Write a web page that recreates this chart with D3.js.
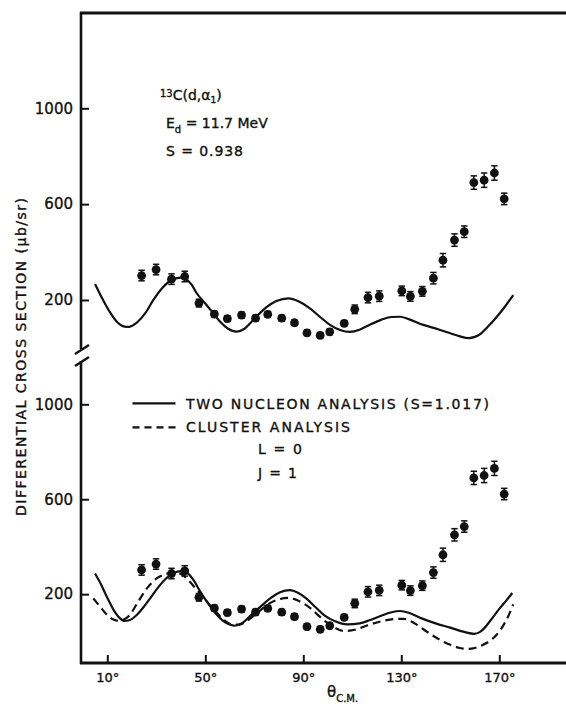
<!DOCTYPE html>
<html><head><meta charset="utf-8">
<script src="https://cdn.jsdelivr.net/npm/d3@7"></script>
<style>
html,body{margin:0;padding:0;background:#fff;}
svg{display:block;}
text{font-family:"DejaVu Sans",sans-serif;fill:#111;stroke:#111;stroke-width:0.35px;}
</style></head><body>
<div id="chart"></div>
<script>
// Measured 13C(d,α1) angular distribution, Ed = 11.7 MeV
const angles = [24.0, 29.9, 36.2, 41.6, 47.4, 53.7, 59.0, 64.8, 70.5, 75.5, 81.2, 86.4, 91.5, 96.9, 100.8, 106.7, 111.0, 116.4, 121.0, 130.2, 133.7, 138.6, 143.1, 147.0, 151.7, 155.7, 159.6, 163.8, 168.0, 172.0];
const crossSection = [302, 327, 287, 298, 187, 141, 122, 137, 124, 140, 124, 105, 63, 52, 67, 102, 161, 210, 216, 238, 215, 236, 291, 366, 450, 485, 690, 700, 730, 622];
const errors = [22, 22, 22, 22, 16, 12, 12, 12, 12, 12, 12, 12, 12, 12, 12, 12, 18, 22, 22, 20, 20, 20, 24, 28, 26, 24, 28, 30, 30, 24];

// Two-nucleon transfer calculation, S = 0.938 (upper panel)
const twoNucleonUpper = [[5,267],[8,205],[11,150],[14,108],[17,89],[19,88],[22,105],[25.5,145],[28.8,200],[32,245],[35,275],[38,290],[40,293],[42,288],[44.5,263],[46.5,228],[50,185],[53.3,144],[56,110],[59,82],[62.8,68],[66,80],[69,110],[72,142],[75,170],[79,196],[84,207],[88,195],[92.7,165],[97,128],[100.9,96],[105,75],[109,67],[113,76],[117,96],[122,118],[126,129],[129.5,130],[133,120],[139,96],[145,78],[150,61],[154,48],[157.5,41],[160,46],[162.5,60],[165,85],[169,130],[172.5,175],[175.7,220]];
// Two-nucleon transfer calculation, S = 1.017 (lower panel)
const twoNucleonLower = [[5,287],[7.5,240],[10,185],[12.5,135],[15,100],[17,87],[19,90],[22,112],[25,148],[28,190],[31,232],[34,266],[37,288],[40,297],[42.5,290],[45,262],[48,210],[51,163],[54,122],[57,90],[60,72],[62,67],[65,78],[69,115],[73,152],[76.5,182],[80.5,208],[84.5,217],[88,205],[91.2,182],[95,145],[98.6,111],[103,86],[108,73],[113,77],[117,90],[121,106],[126,124],[129.5,129],[133,122],[138.3,98],[144,77],[150,59],[156,40],[159.7,33],[162,40],[164,58],[166.3,88],[170,138],[173,175],[175.3,205]];
// Cluster (alpha-transfer) calculation, L = 0, J = 1
const clusterLower = [[4.3,182],[7,148],[10,112],[12.5,93],[14.5,88],[16.5,92],[19,110],[22,158],[26,222],[30,265],[34,285],[37,291],[40,285],[43,260],[46,225],[49,189],[52,152],[55,118],[58,88],[61,72],[64,72],[67,88],[71,120],[76,160],[80,178],[84,184],[88,172],[93,140],[96,112],[99,85],[103,58],[106.5,45],[111,50],[116,68],[122,86],[127,95],[131,96],[135,80],[140,45],[145,12],[150,-13],[154,-27],[157,-31],[160,-27],[163,-15],[166,2],[169,30],[172,75],[174,115],[175.7,157]];

const xTicks = [10, 50, 90, 130, 170];
const yTicks = [200, 600, 1000];

const W = 566, H = 704;
const axisX = 81, baseY = 663, topY = 13;

const svg = d3.select("#chart").append("svg").attr("width", W).attr("height", H);

const x = d3.scaleLinear().domain([10, 170]).range([107.3, 499.3]);
const yUp = d3.scaleLinear().domain([0, 1000]).range([347.9, 108.3]);
const yLo = d3.scaleLinear().domain([-90, 1000]).range([baseY, 404.3]);

const ink = "#111";

// frame: top rule, broken vertical axis, baseline
svg.append("line").attr("x1", axisX - 1).attr("x2", W).attr("y1", topY).attr("y2", topY)
  .attr("stroke", ink).attr("stroke-width", 3);
svg.append("line").attr("x1", axisX).attr("x2", axisX).attr("y1", topY - 1).attr("y2", 349)
  .attr("stroke", ink).attr("stroke-width", 2.6);
svg.append("line").attr("x1", axisX).attr("x2", axisX).attr("y1", 361).attr("y2", baseY + 1)
  .attr("stroke", ink).attr("stroke-width", 2.6);
[[75, 354, 89, 345], [75, 366, 89, 357]].forEach(s => {
  svg.append("line").attr("x1", s[0]).attr("y1", s[1]).attr("x2", s[2]).attr("y2", s[3])
    .attr("stroke", ink).attr("stroke-width", 2.4);
});
svg.append("line").attr("x1", axisX - 1).attr("x2", W).attr("y1", baseY).attr("y2", baseY)
  .attr("stroke", ink).attr("stroke-width", 3);

function styleAxis(g, size) {
  g.select(".domain").remove();
  g.selectAll(".tick line").attr("stroke", ink).attr("stroke-width", 2);
  g.selectAll(".tick text").attr("fill", ink).style("font-family", '"DejaVu Sans",sans-serif').style("font-size", size + "px");
}

[yUp, yLo].forEach(sc => {
  const g = svg.append("g").attr("transform", `translate(${axisX},0)`)
    .call(d3.axisLeft(sc).tickValues(yTicks).tickSizeInner(-8).tickSizeOuter(0).tickPadding(8).tickFormat(d3.format("d")));
  styleAxis(g, 15);
});

const gx = svg.append("g").attr("transform", `translate(0,${baseY})`)
  .call(d3.axisBottom(x).tickValues(xTicks).tickSizeInner(-8).tickSizeOuter(0).tickPadding(10).tickFormat(d => d + "°"));
styleAxis(gx, 13);

// curves
function curve(data, sc, dash) {
  const line = d3.line().x(d => x(d[0])).y(d => sc(d[1])).curve(d3.curveMonotoneX);
  svg.append("path").datum(data).attr("d", line).attr("fill", "none")
    .attr("stroke", ink).attr("stroke-width", 2.2).attr("stroke-dasharray", dash || null);
}
curve(twoNucleonUpper, yUp);
curve(twoNucleonLower, yLo);
curve(clusterLower, yLo, "8,5");

// data points with error bars
function points(sc) {
  const g = svg.append("g");
  const pts = angles.map((a, i) => ({a, v: crossSection[i], e: errors[i]}));
  const eb = g.selectAll("g.eb").data(pts).join("g").attr("class", "eb");
  eb.append("line").attr("x1", d => x(d.a)).attr("x2", d => x(d.a))
    .attr("y1", d => sc(d.v - d.e)).attr("y2", d => sc(d.v + d.e)).attr("stroke", ink).attr("stroke-width", 1.5);
  [-1, 1].forEach(s => {
    eb.append("line").attr("x1", d => x(d.a) - 3.2).attr("x2", d => x(d.a) + 3.2)
      .attr("y1", d => sc(d.v + s * d.e)).attr("y2", d => sc(d.v + s * d.e)).attr("stroke", ink).attr("stroke-width", 1.5);
  });
  g.selectAll("circle").data(pts).join("circle")
    .attr("cx", d => x(d.a)).attr("cy", d => sc(d.v)).attr("r", 4.4).attr("fill", ink);
}
points(yUp);
points(yLo);

// y-axis title
svg.append("text").attr("transform", "translate(26,357) rotate(-90)")
  .attr("text-anchor", "middle").style("font-size", "14px")
  .attr("textLength", 318).attr("lengthAdjust", "spacing")
  .text("DIFFERENTIAL CROSS SECTION (μb/sr)");

// x-axis title
const xt = svg.append("text").attr("x", 327).attr("y", 697).style("font-size", "15px");
xt.append("tspan").text("θ");
xt.append("tspan").attr("dy", 5).style("font-size", "10px").text("C.M.");

// reaction annotation (upper panel)
const r = svg.append("text").attr("x", 160).attr("y", 97).style("font-size", "14px");
r.append("tspan").style("font-size", "10px").text("13");
r.append("tspan").attr("dy", 3).text("C(d,α");
r.append("tspan").attr("dy", 3).style("font-size", "9px").text("1");
r.append("tspan").attr("dy", -3).text(")");

const e = svg.append("text").attr("x", 166).attr("y", 128).style("font-size", "14px");
e.append("tspan").text("E");
e.append("tspan").attr("dy", 5).style("font-size", "10px").text("d");
e.append("tspan").attr("dy", -5).text(" = 11.7 MeV");

svg.append("text").attr("x", 166).attr("y", 156).style("font-size", "14px")
  .attr("textLength", 77).attr("lengthAdjust", "spacing").text("S = 0.938");

// legend (lower panel)
svg.append("line").attr("x1", 132.5).attr("x2", 175.5).attr("y1", 403.3).attr("y2", 403.3)
  .attr("stroke", ink).attr("stroke-width", 2.2);
svg.append("line").attr("x1", 132.5).attr("x2", 175.5).attr("y1", 427.3).attr("y2", 427.3)
  .attr("stroke", ink).attr("stroke-width", 2.2).attr("stroke-dasharray", "7,5");
svg.append("text").attr("x", 186).attr("y", 408.5).style("font-size", "14px")
  .attr("textLength", 303).attr("lengthAdjust", "spacing").text("TWO NUCLEON ANALYSIS (S=1.017)");
svg.append("text").attr("x", 186).attr("y", 432).style("font-size", "14px")
  .attr("textLength", 164).attr("lengthAdjust", "spacing").text("CLUSTER ANALYSIS");
svg.append("text").attr("x", 258).attr("y", 453.5).style("font-size", "14px")
  .attr("textLength", 44).attr("lengthAdjust", "spacing").text("L = 0");
svg.append("text").attr("x", 258).attr("y", 477.5).style("font-size", "14px")
  .attr("textLength", 39).attr("lengthAdjust", "spacing").text("J = 1");
</script>
</body></html>
